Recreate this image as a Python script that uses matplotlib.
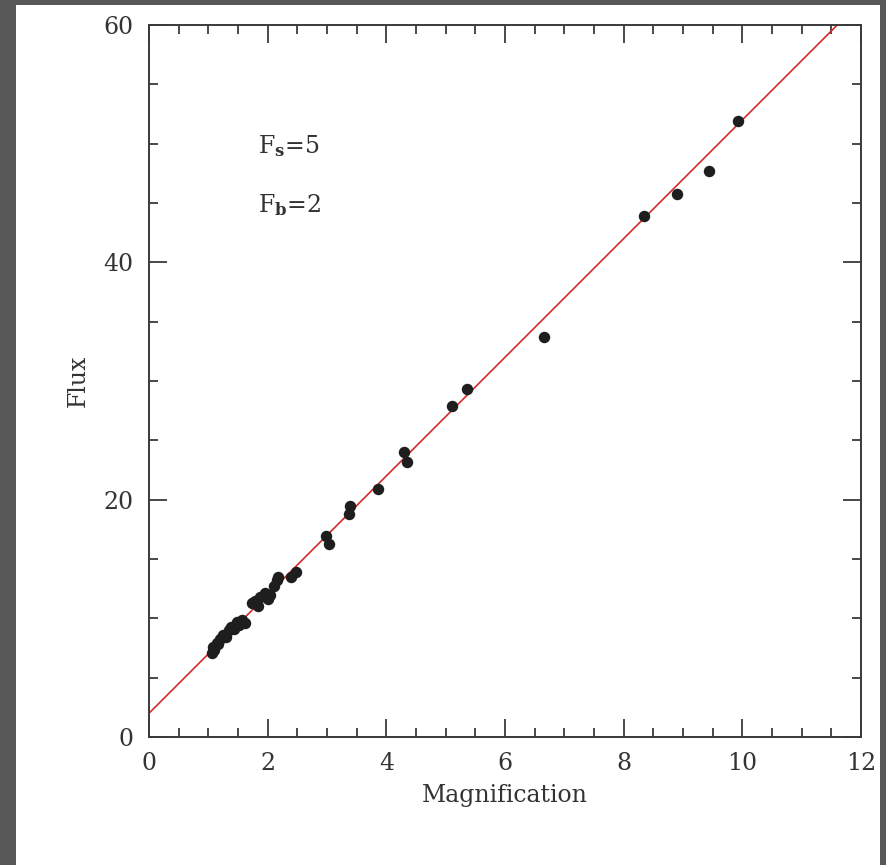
import matplotlib
matplotlib.use('Agg')
import matplotlib.pyplot as plt
import numpy as np
from matplotlib.patches import Rectangle

# source flux and blended flux of the fit
flux_source = 5
flux_blend = 2

magnification = [1.06, 1.08, 1.10, 1.14, 1.17, 1.20, 1.25, 1.30, 1.34, 1.39,
                 1.44, 1.48, 1.52, 1.56, 1.62, 1.73, 1.79, 1.84, 1.87, 1.96,
                 2.00, 2.04, 2.10, 2.15, 2.18,
                 2.39, 2.48, 2.98, 3.03, 3.37, 3.39, 3.86, 4.30, 4.34, 5.11,
                 5.36, 6.66, 8.34, 8.90, 9.44, 9.93]
flux = [7.05, 7.56, 7.3, 7.9, 7.8, 8.3, 8.6, 8.4, 9.0, 9.3,
        9.1, 9.7, 9.4, 9.86, 9.6, 11.3, 11.5, 11.0, 11.8, 12.1,
        11.6, 12.0, 12.7, 13.2, 13.5,
        13.5, 13.9, 16.9, 16.3, 18.8, 19.5, 20.9, 24.0, 23.2, 27.9,
        29.3, 33.7, 43.9, 45.8, 47.7, 51.9]

plt.rcParams['mathtext.fontset'] = 'dejavuserif'

fig = plt.figure(figsize=(8.87, 8.65), dpi=100, facecolor='#585858')
fig.patches.append(Rectangle((16 / 887, 0), (880 - 16) / 887, 860 / 865,
                             transform=fig.transFigure, facecolor='white',
                             edgecolor='none', zorder=-1))
ax = fig.add_axes([149 / 887, 128 / 865, 712 / 887, 712 / 865])
ax.set_facecolor('white')

x_line = np.array([0, 12])
ax.plot(x_line, flux_source * x_line + flux_blend, color='#d42a2a', lw=1.2)
ax.scatter(magnification, flux, s=68, color='#1e1e1e', zorder=3, linewidths=0)

ax.set_xlim(0, 12)
ax.set_ylim(0, 60)
ax.set_xticks([0, 2, 4, 6, 8, 10, 12])
ax.set_xticks(np.arange(0, 12.01, 0.5), minor=True)
ax.set_yticks([0, 20, 40, 60])
ax.set_yticks(np.arange(0, 60.01, 5), minor=True)

for s in ax.spines.values():
    s.set_color('#3a3a3a')
    s.set_linewidth(1.4)
ax.tick_params(which='both', direction='in', top=True, right=True,
               color='#3a3a3a', width=1.3)
ax.tick_params(which='major', length=13, pad=11, labelsize=17,
               labelcolor='#333333')
ax.tick_params(which='minor', length=6.5)
for lab in ax.get_xticklabels() + ax.get_yticklabels():
    lab.set_family('DejaVu Serif')

ax.set_xlabel('Magnification', fontsize=17, family='DejaVu Serif',
              color='#333333', labelpad=6)
ax.set_ylabel('Flux', fontsize=17, family='DejaVu Serif',
              color='#333333', labelpad=10)

ax.text(1.84, 49.2, r'F$_{\mathbf{s}}$=5', fontsize=17, family='DejaVu Serif',
        color='#333333')
ax.text(1.84, 44.2, r'F$_{\mathbf{b}}$=2', fontsize=17, family='DejaVu Serif',
        color='#333333')

fig.savefig('out.png', dpi=100, facecolor=fig.get_facecolor())
